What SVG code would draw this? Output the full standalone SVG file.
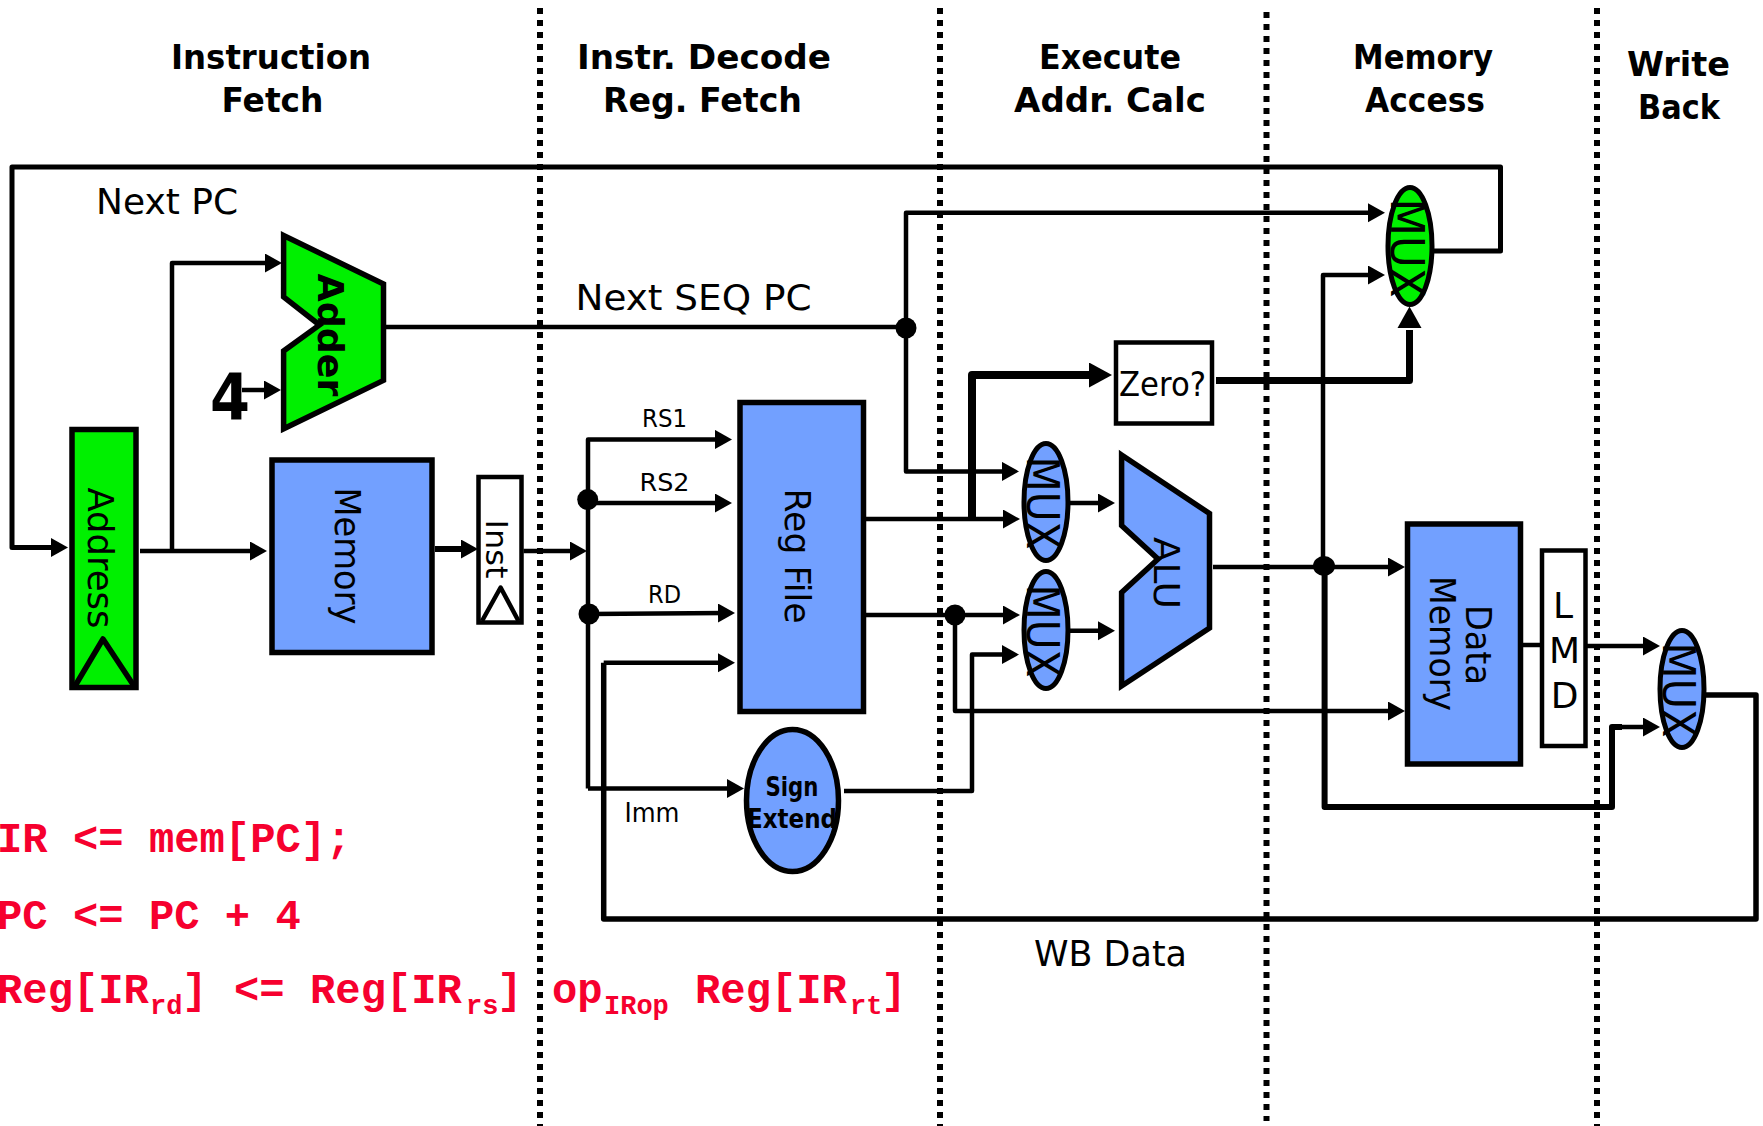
<svg xmlns="http://www.w3.org/2000/svg" width="1763" height="1126" viewBox="0 0 1763 1126">
<style>
text{font-family:"DejaVu Sans","Liberation Sans",sans-serif;fill:#000;text-anchor:middle}
.h{font-weight:bold;font-size:34px}
.l{font-size:36px}
.s{font-size:25px}
.b{font-weight:bold}
.r{font-family:"Liberation Mono","Courier New",monospace;font-weight:bold;font-size:42.2px;fill:#f6002e;text-anchor:start}
.rs{font-size:27px}
.dot{fill:none;stroke:#000;stroke-width:6;stroke-dasharray:6 6}
.c{fill:none;stroke:#000;stroke-width:4.5;stroke-linejoin:round}
.t{stroke-width:7}
.a{marker-end:url(#ah)}
.g{fill:#00f000;stroke:#000;stroke-width:5.5}
.u{fill:#72a0ff;stroke:#000;stroke-width:5.5}
.w{fill:#fff;stroke:#000;stroke-width:4.5}
.j{fill:#000}
</style>
<defs>
<marker id="ah" markerUnits="userSpaceOnUse" markerWidth="18" markerHeight="20" refX="7" refY="9.5" orient="auto"><path d="M0 0L17 9.5L0 19Z" fill="#000"/></marker>
<marker id="ahb" markerUnits="userSpaceOnUse" markerWidth="24" markerHeight="26" refX="8" refY="12.5" orient="auto"><path d="M0 0L23 12.5L0 25Z" fill="#000"/></marker>
</defs>
<g id="stage-dividers">
<path class="dot" d="M540 8V1126"/>
<path class="dot" d="M940 8V1126"/>
<path class="dot" d="M1266.500 12V1121"/>
<path class="dot" d="M1597 8V1126"/>
</g>
<g id="connectors">
<path class="c" style="stroke-width:5" d="M1434 251H1500.500V167H12V547.500H58" marker-end="url(#ah)"/>
<path class="c a" d="M140 551H257"/>
<path class="c a" d="M172 551V263H272"/>
<path class="c a" d="M242 390H271"/>
<path class="c" d="M383 327H906"/>
<path class="c a" d="M906 327V212.700H1375"/>
<path class="c a" d="M906 327V471.400H1009"/>
<path class="c a" style="stroke-width:6" d="M435 549H468"/>
<path class="c a" d="M523.500 551H577"/>
<path class="c a" d="M588 788.500V439.400H722"/>
<path class="c a" d="M588 503H722"/>
<path class="c a" d="M589 614L725 613"/>
<path class="c a" d="M588 788.500H734"/>
<path class="c" style="stroke-width:5.500" d="M603.700 662.800V919H1756V695H1706"/>
<path class="c a" d="M603.700 662.800H725"/>
<path class="c a" d="M861 519H1010"/>
<path class="c a" d="M861 615H1010"/>
<path class="c t" style="stroke-width:8" d="M972 519V375H1097" marker-end="url(#ahb)"/>
<path class="c a" d="M955 615V711H1395"/>
<path class="c a" d="M844 791H972V654.600H1009"/>
<path class="c a" d="M1070 503H1105"/>
<path class="c a" d="M1070 630.700H1105"/>
<path class="c a" d="M1213 567H1395"/>
<path class="c a" d="M1323 566V275H1375"/>
<path class="c" style="stroke-width:6" d="M1324.600 566V807H1612V727H1622"/>
<path class="c a" d="M1612 727H1650"/>
<path class="c t" d="M1216 380.600H1409.500V330"/>
<path d="M1409.500 306.600L1397.500 328H1421.500Z" class="j"/>
<path class="c" d="M1522 645H1542"/>
<path class="c a" d="M1587 646H1650"/>
<circle class="j" cx="906" cy="328" r="10.500"/>
<circle class="j" cx="587.700" cy="499.600" r="10.500"/>
<circle class="j" cx="589" cy="614" r="10.500"/>
<circle class="j" cx="955" cy="615" r="10.500"/>
<ellipse class="j" cx="1324" cy="566" rx="11" ry="10"/>
</g>
<g id="pc-register">
<rect class="g" x="72" y="429.500" width="64" height="258"/>
<path class="c" style="stroke-width:5.500" d="M75 686L103 639L134 686"/>
<text class="l" transform="translate(88 558) rotate(90)" textLength="141" lengthAdjust="spacingAndGlyphs">Address</text>
</g>
<g id="adder">
<path class="g" d="M283.600 235.500L383.500 284V380.400L283.600 428.800V351L319.500 325L283.600 297Z"/>
<text class="l b" transform="translate(317.600 335) rotate(90)" textLength="123" lengthAdjust="spacingAndGlyphs">Adder</text>
</g>
<g id="constant-4"><text class="b" style="font-size:64px" x="230" y="420" textLength="40" lengthAdjust="spacingAndGlyphs">4</text></g>
<g id="instruction-memory">
<rect class="u" x="272" y="460" width="160" height="192.500"/>
<text class="l" transform="translate(335 556) rotate(90)" textLength="137" lengthAdjust="spacingAndGlyphs">Memory</text>
</g>
<g id="inst-register">
<rect class="w" x="478.500" y="477" width="43" height="145.500"/>
<path class="c" d="M482 621L500.600 587.500L518.500 621"/>
<text style="font-size:31px" transform="translate(486 549) rotate(90)" textLength="59" lengthAdjust="spacingAndGlyphs">Inst</text>
</g>
<g id="reg-file">
<rect class="u" x="740" y="402.500" width="123.500" height="309"/>
<text class="l" transform="translate(785 556) rotate(90)" textLength="135" lengthAdjust="spacingAndGlyphs">Reg File</text>
</g>
<g id="sign-extend">
<ellipse class="u" cx="792.500" cy="800.500" rx="46" ry="71"/>
<text class="b" style="font-size:26px" x="792" y="796" textLength="53" lengthAdjust="spacingAndGlyphs">Sign</text>
<text class="b" style="font-size:26px" x="792" y="828" textLength="90" lengthAdjust="spacingAndGlyphs">Extend</text>
</g>
<g id="zero-test">
<rect class="w" x="1116" y="342.500" width="96" height="81"/>
<text style="font-size:33px" x="1162.500" y="396" textLength="87" lengthAdjust="spacingAndGlyphs">Zero?</text>
</g>
<g id="mux-a">
<ellipse class="u" cx="1046" cy="502" rx="22" ry="58.500" style="stroke-width:5"/>
<text style="font-size:44px" transform="translate(1026.500 503) rotate(90)" textLength="93" lengthAdjust="spacingAndGlyphs">MUX</text>
</g>
<g id="mux-b">
<ellipse class="u" cx="1046" cy="630" rx="22" ry="58.500" style="stroke-width:5"/>
<text style="font-size:44px" transform="translate(1026.500 631) rotate(90)" textLength="93" lengthAdjust="spacingAndGlyphs">MUX</text>
</g>
<g id="alu">
<path class="u" d="M1121.600 455L1209.500 513.500V628L1121.600 686V592.400L1158 559L1121.600 525.500Z"/>
<text style="font-size:36px" transform="translate(1154 573) rotate(90)" textLength="72" lengthAdjust="spacingAndGlyphs">ALU</text>
</g>
<g id="mux-branch">
<ellipse class="g" cx="1410" cy="246" rx="22" ry="58.500" style="stroke-width:5"/>
<text style="font-size:46px" transform="translate(1391 248) rotate(90)" textLength="99" lengthAdjust="spacingAndGlyphs">MUX</text>
</g>
<g id="data-memory">
<rect class="u" x="1407.500" y="524" width="113" height="240"/>
<text class="l" transform="translate(1465.700 645) rotate(90)" textLength="80" lengthAdjust="spacingAndGlyphs">Data</text>
<text class="l" transform="translate(1430 643.500) rotate(90)" textLength="135" lengthAdjust="spacingAndGlyphs">Memory</text>
</g>
<g id="lmd-register">
<rect class="w" x="1542" y="550.500" width="43.500" height="195.500"/>
<text style="font-size:36px" x="1563" y="618">L</text>
<text style="font-size:36px" x="1564.500" y="663">M</text>
<text style="font-size:36px" x="1564.500" y="708">D</text>
</g>
<g id="mux-wb">
<ellipse class="u" cx="1682" cy="689" rx="22" ry="58.500" style="stroke-width:5"/>
<text style="font-size:44px" transform="translate(1663 690) rotate(90)" textLength="95" lengthAdjust="spacingAndGlyphs">MUX</text>
</g>
<g id="stage-titles">
<text class="h" x="271" y="69" textLength="200" lengthAdjust="spacingAndGlyphs">Instruction</text>
<text class="h" x="272.500" y="112" textLength="102" lengthAdjust="spacingAndGlyphs">Fetch</text>
<text class="h" x="704" y="69" textLength="254" lengthAdjust="spacingAndGlyphs">Instr. Decode</text>
<text class="h" x="702.500" y="112" textLength="199" lengthAdjust="spacingAndGlyphs">Reg. Fetch</text>
<text class="h" x="1110" y="69" textLength="142" lengthAdjust="spacingAndGlyphs">Execute</text>
<text class="h" x="1110" y="112" textLength="192" lengthAdjust="spacingAndGlyphs">Addr. Calc</text>
<text class="h" x="1423" y="69" textLength="140" lengthAdjust="spacingAndGlyphs">Memory</text>
<text class="h" x="1425" y="112" textLength="120" lengthAdjust="spacingAndGlyphs">Access</text>
<text class="h" x="1678.500" y="76" textLength="103" lengthAdjust="spacingAndGlyphs">Write</text>
<text class="h" x="1679" y="119" textLength="82" lengthAdjust="spacingAndGlyphs">Back</text>
</g>
<g id="signal-labels">
<text class="l" x="167" y="214" textLength="142" lengthAdjust="spacingAndGlyphs">Next PC</text>
<text class="l" x="693.500" y="310" textLength="236" lengthAdjust="spacingAndGlyphs">Next SEQ PC</text>
<text class="l" x="1110.500" y="966" textLength="153" lengthAdjust="spacingAndGlyphs">WB Data</text>
<text class="s" x="664.500" y="427" textLength="45" lengthAdjust="spacingAndGlyphs">RS1</text>
<text class="s" x="664.500" y="491" textLength="50" lengthAdjust="spacingAndGlyphs">RS2</text>
<text class="s" x="664.500" y="603" textLength="33" lengthAdjust="spacingAndGlyphs">RD</text>
<text class="s" style="font-size:27px" x="652" y="822" textLength="55" lengthAdjust="spacingAndGlyphs">Imm</text>
</g>
<g id="register-transfer-text">
<text class="r" x="-3" y="852">IR &lt;= mem[PC];</text>
<text class="r" x="-3" y="929">PC &lt;= PC + 4</text>
<text class="r" x="-3" y="1003">Reg[IR</text>
<text class="r rs" x="150" y="1014">rd</text>
<text class="r" x="182" y="1003">]</text>
<text class="r" x="234" y="1003">&lt;=</text>
<text class="r" x="310" y="1003">Reg[IR</text>
<text class="r rs" x="466" y="1014">rs</text>
<text class="r" x="497" y="1003">]</text>
<text class="r" x="552" y="1003">op</text>
<text class="r rs" x="604" y="1014">IRop</text>
<text class="r" x="695" y="1003">Reg[IR</text>
<text class="r rs" x="850" y="1014">rt</text>
<text class="r" x="881" y="1003">]</text>
</g>
</svg>
